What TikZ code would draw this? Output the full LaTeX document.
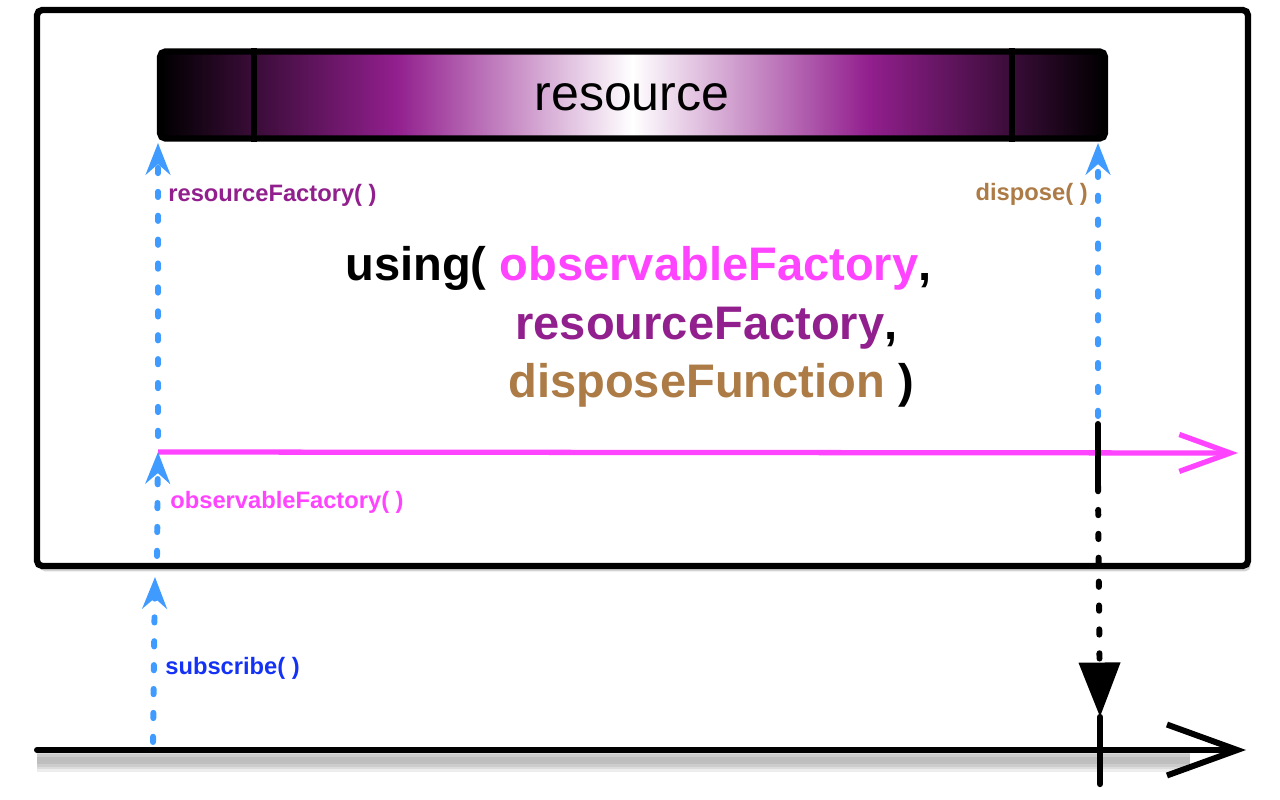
\documentclass[tikz,border=0pt]{standalone}
\usepackage{fontspec}
\setmainfont{Liberation Sans}
\usetikzlibrary{arrows.meta, positioning, fit, calc, shadows}
\definecolor{CallBlue}{HTML}{3F9BFF}
\definecolor{ObsPink}{HTML}{FF44FF}
\definecolor{ResPurple}{HTML}{921F8E}
\definecolor{DispBrown}{HTML}{AD7B45}
\definecolor{SubBlue}{HTML}{1432F5}
\pgfdeclarehorizontalshading{resshade}{100bp}{color(0bp)=(black); color(25bp)=(black); color(37.5bp)=(ResPurple); color(50bp)=(white); color(62.5bp)=(ResPurple); color(75bp)=(black); color(100bp)=(black)}

\begin{document}
\begin{tikzpicture}[x=0.02cm, y=-0.02cm,
			every node/.style={font=\bfseries},
			call/.style={draw=CallBlue, line width=3.4pt, line cap=round, dash pattern=on 3pt off 10.6pt, -{Stealth[length=18pt, width=14pt, inset=6pt]}},
			cut/.style={draw=black, line width=3.4pt, line cap=round},
			lbl/.style={font=\bfseries\fontsize{13.5}{16}\selectfont, inner sep=0pt, anchor=west},
			arg/.style={font=\bfseries\fontsize{26.8}{32}\selectfont, inner sep=0pt, anchor=base west},
			haze/.style={draw=black, opacity=0.07, transform canvas={yshift=-6pt}}
		]
		\useasboundingbox (0,0) rectangle (1280,800);
		% operator box
		\node (box) [fit={(37,10) (1248,566)}, inner sep=0pt, draw, line width=3.6pt, rounded corners=3pt, fill=white,
			drop shadow={opacity=0.35, shadow xshift=1.5pt, shadow yshift=-3pt}] {};
		% the resource
		\node (res) [minimum width=18.9cm, minimum height=1.74cm, inner sep=0pt, draw, line width=3.6pt, rounded corners=3pt,
			shade, shading=resshade] at (632.5,95) {};
		\node (reslbl) [font=\fontsize{28.5}{32}\selectfont] at (632,97) {resource};
		\draw[line width=3pt] ($(res.north west)!0.102!(res.north east)$) -- ($(res.south west)!0.102!(res.south east)$);
		\draw[line width=3pt] ($(res.north west)!0.899!(res.north east)$) -- ($(res.south west)!0.899!(res.south east)$);

		\node (using) [arg] at (345,280) {using( \textcolor{ObsPink}{observableFactory},};
		\node (argres) [arg, text=ResPurple] at (515,339) {resourceFactory\textcolor{black}{,}};
		\node (argdisp) [arg, text=DispBrown] at (508,397) {disposeFunction \textcolor{black}{)}};

		\node (lblres) [lbl, text=ResPurple] at (168,195) {resourceFactory( )};
		\node (lbldisp) [lbl, text=DispBrown, anchor=east] at (1088,194) {dispose( )};
		\node (lblobs) [lbl, text=ObsPink] at (170,502) {observableFactory( )};
		\node (lblsub) [lbl, text=SubBlue] at (165,668) {subscribe( )};

		% lifelines
		\coordinate (subFrom) at (153,742);
		\coordinate (subTo) at (155,577);
		\coordinate (obsFrom) at (157,556);
		\coordinate (obsTo) at (158,452);
		\coordinate (resFrom) at (158,436);
		\coordinate (resTo) at (158,143);
		\coordinate (obsEnd) at (1238,453);
		\coordinate (dispFrom) at (1098,416);
		\coordinate (dispTo) at (1098,143);
		\coordinate (cutTop) at (1098,424);
		\coordinate (cutBot) at (1098,486);
		\coordinate (tickTop) at (1100,717);
		\coordinate (tickBot) at (1100,784);
		\coordinate (tlStart) at (37,750);
		\coordinate (tlEnd) at (1246,750);

		% soft shadow under the time line
		\foreach \w in {4,7,10,13}
			\draw[haze, line width=\w pt] (tlStart) -- (1190,750);
		\draw[draw=ObsPink, line width=3pt, -{Straight Barb[length=29pt, width=21pt]}] (obsTo) -- (obsEnd);
		\draw[line width=3.4pt, line cap=round, -{Straight Barb[length=40pt, width=29pt]}] (tlStart) -- (tlEnd);
		\draw[cut] (cutTop) -- (cutBot);
		\draw[cut, dash pattern=on 3pt off 10.6pt, -{Triangle[length=31pt, width=23pt]}] (cutBot) -- (tickTop);
		\draw[cut, line width=3.6pt] (tickTop) -- (tickBot);

		\draw[call] (subFrom) -- (subTo);
		\draw[call] (obsFrom) -- (obsTo);
		\draw[call] (resFrom) -- (resTo);
		\draw[call] (dispFrom) -- (dispTo);
	\end{tikzpicture}
\end{document}
